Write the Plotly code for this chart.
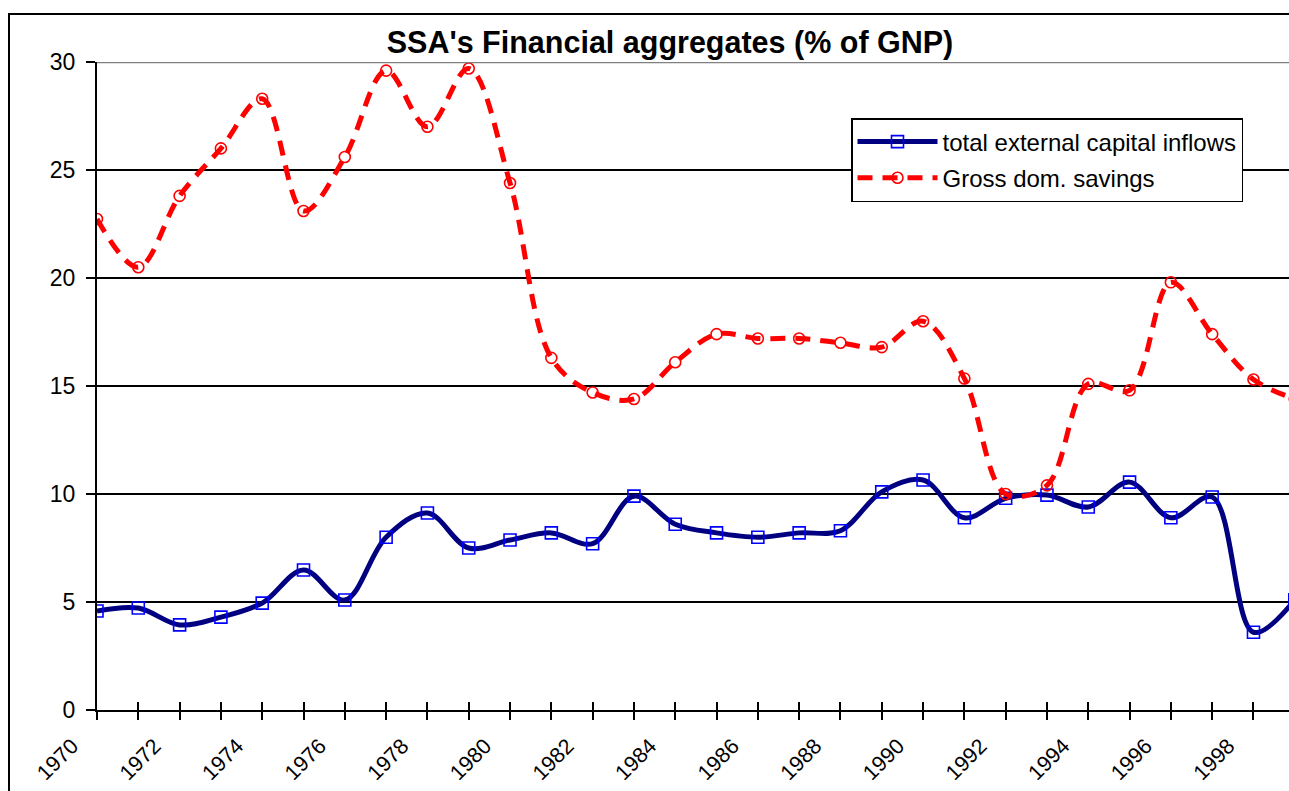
import plotly.graph_objects as go

years = list(range(1970, 2000))
inflows = [4.58, 4.72, 3.94, 4.30, 4.95, 6.48, 5.09, 8.00, 9.12, 7.50,
           7.87, 8.20, 7.70, 9.90, 8.60, 8.20, 8.00, 8.20, 8.30, 10.10,
           10.65, 8.90, 9.80, 9.95, 9.40, 10.55, 8.90, 9.86, 3.60, 5.10]
savings = [22.73, 20.50, 23.80, 26.00, 28.30, 23.10, 25.60, 29.60, 27.00, 29.70,
           24.40, 16.30, 14.70, 14.40, 16.10, 17.40, 17.20, 17.20, 17.00, 16.80,
           18.00, 15.35, 10.00, 10.40, 15.10, 14.80, 19.80, 17.40, 15.30, 14.40]
label_years = list(range(1970, 1999, 2))

FONT = "Liberation Sans, Arial, sans-serif"

fig = go.Figure()
fig.add_trace(go.Scatter(
    x=years, y=inflows, name="total external capital inflows",
    mode="lines+markers", legendgroup="a",
    line=dict(color="#000080", width=5, shape="spline", smoothing=1),
    marker=dict(symbol="square-open", size=12, color="#0000FF", line=dict(width=1.6, color="#0000FF")),
))
fig.add_trace(go.Scatter(
    x=years, y=savings, name="Gross dom. savings",
    mode="lines+markers", legendgroup="b",
    line=dict(color="#FF0000", width=5, shape="spline", smoothing=1, dash="15px,10px"),
    marker=dict(symbol="circle-open", size=11, color="#FF0000", line=dict(width=1.6, color="#FF0000")),
))
# helper trace for overlay axes (cross tick marks)
fig.add_trace(go.Scatter(x=[years[0]], y=[0], xaxis="x2", yaxis="y2", mode="markers",
                         marker=dict(opacity=0), showlegend=False, hoverinfo="skip"))

xr = [1970, 1998.86]
fig.update_layout(
    width=1289, height=791,
    margin=dict(l=97, r=0, t=62, b=81),
    paper_bgcolor="white", plot_bgcolor="white",
    font=dict(family=FONT, color="black", size=22),
    title=dict(text="<b>SSA's Financial aggregates (% of GNP)</b>", x=(670 / 1289), xanchor="center",
               y=1 - 42 / 791, yanchor="middle", font=dict(size=30.5, family=FONT)),
    xaxis=dict(range=xr, tickmode="array", tickvals=label_years, ticktext=[str(y) for y in label_years],
               tickangle=-45, ticks="outside", ticklen=8, tickwidth=1.5, tickcolor="black",
               minor=dict(dtick=1, tick0=1970, ticks="outside", ticklen=8, tickwidth=1.5, tickcolor="black"),
               showline=True, linecolor="black", linewidth=2, showgrid=False, zeroline=False,
               tickfont=dict(size=21.5), ticklabelshift=-25, ticklabelstandoff=5, automargin=False),
    yaxis=dict(range=[0, 30], tickmode="linear", tick0=0, dtick=5, ticks="outside", ticklen=9,
               tickwidth=1.5, tickcolor="black", showline=True, linecolor="black", linewidth=2,
               showgrid=True, gridcolor="black", gridwidth=1.5, zeroline=False,
               tickfont=dict(size=23), ticklabelstandoff=6, automargin=False),
    xaxis2=dict(range=xr, overlaying="x", anchor="y", tickmode="linear", tick0=1970, dtick=1,
                ticks="inside", ticklen=8, tickwidth=1.5, tickcolor="black", showticklabels=False,
                showline=False, showgrid=False, zeroline=False, automargin=False),
    yaxis2=dict(range=[0, 30], overlaying="y", anchor="x", side="left", tickmode="linear", tick0=0, dtick=5,
                ticks="inside", ticklen=9, tickwidth=1.5, tickcolor="black", showticklabels=False,
                showline=False, showgrid=False, zeroline=False, automargin=False),
    legend=dict(x=(851 - 97) / 1192, y=(710 - 118) / 648, xanchor="left", yanchor="top",
                bgcolor="white", bordercolor="black", borderwidth=1.5,
                font=dict(size=24, family=FONT), tracegroupgap=2, itemwidth=80),
    showlegend=True,
    shapes=[
        dict(type="line", xref="paper", yref="y", x0=0, x1=1, y0=30, y1=30,
             line=dict(color="#808080", width=2.5), layer="above"),
        dict(type="rect", xref="paper", yref="paper", x0=(9 - 97) / 1192, x1=1.2,
             y0=-0.5, y1=(710 - 14) / 648, line=dict(color="black", width=2), layer="above"),
    ],
)

fig.write_html("out.html", config={"displayModeBar": False},
               post_script="document.body.style.margin='0';document.body.style.overflow='hidden';")
